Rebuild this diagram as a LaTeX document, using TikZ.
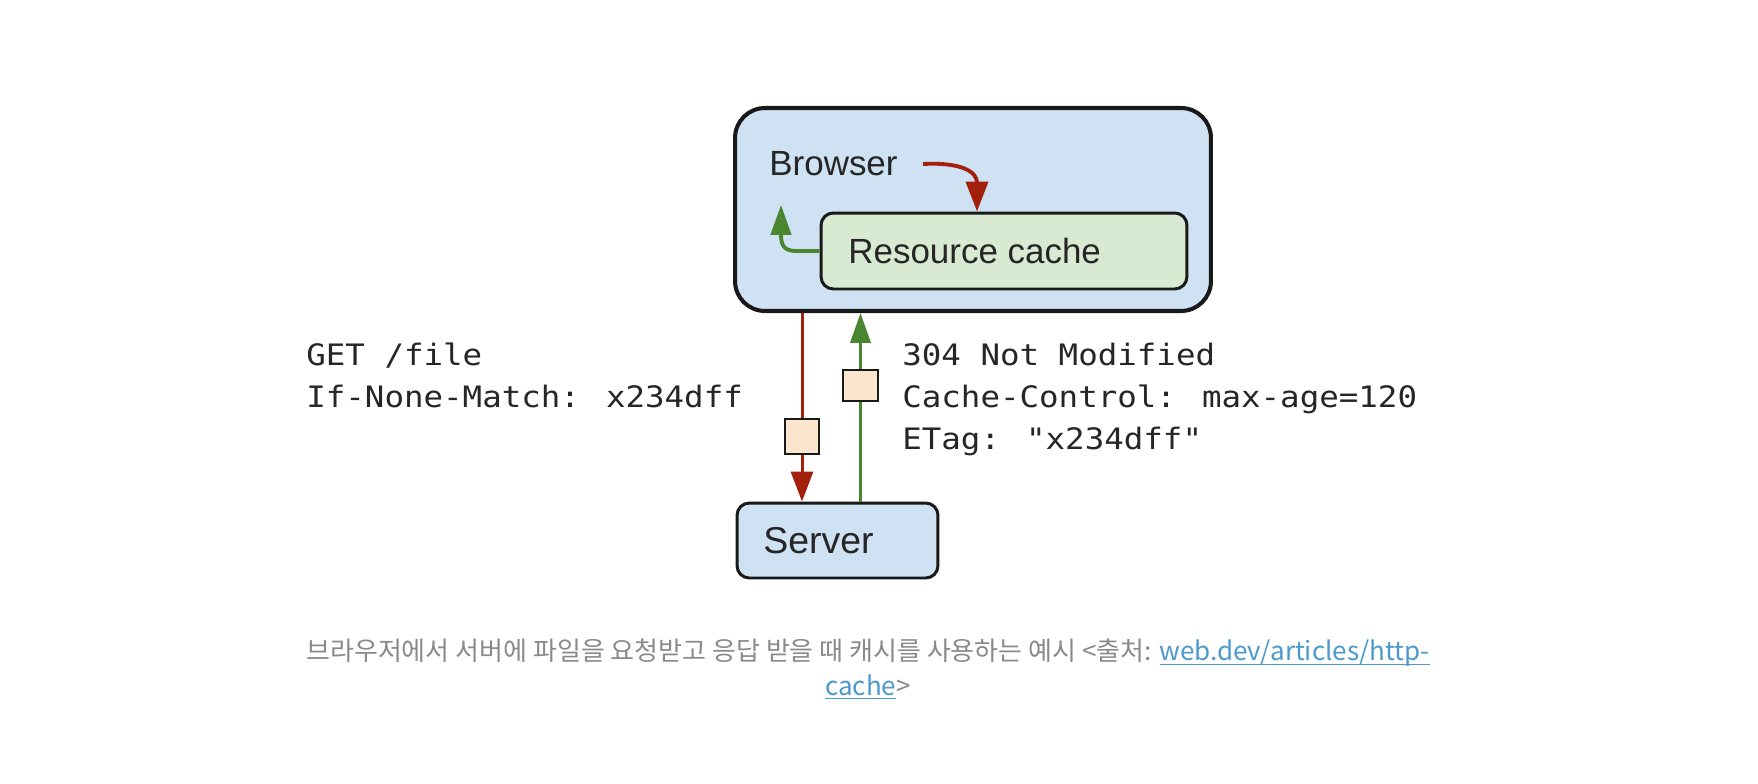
\documentclass[tikz,border=0pt]{standalone}
\usepackage{fontspec}
\setmainfont{Liberation Sans}
\newfontfamily\monofont[FakeStretch=1.1]{DejaVu Sans Mono}
\newfontfamily\krfont{Noto Sans CJK KR}
\usetikzlibrary{arrows.meta}

\definecolor{browserblue}{HTML}{CFE2F3}
\definecolor{cachegreen}{HTML}{D9EAD3}
\definecolor{msgorange}{HTML}{FCE5CD}
\definecolor{reqred}{HTML}{A2200C}
\definecolor{respgreen}{HTML}{4A8530}
\definecolor{captiongray}{HTML}{8A8A8A}
\definecolor{linkblue}{HTML}{4C9ACB}

\newcommand{\weblink}[1]{\textcolor{linkblue}{\setbox0\hbox{#1}\rlap{\rule[-2.4pt]{\wd0}{0.9pt}}\box0}}

\begin{document}
\begin{tikzpicture}[x=0.02cm, y=-0.02cm,
    box/.style={draw=black!90, line width=1.7pt, rounded corners=7pt, inner sep=0pt},
    boxtext/.style={anchor=base west, inner sep=0pt, text=black!85, font=\fontsize{19.9}{24}\selectfont},
    header/.style={anchor=base west, inner sep=0pt, text=black!85, font=\monofont\fontsize{16.8}{20}\selectfont},
    msg/.style={draw=black!90, line width=1.2pt, fill=msgorange, inner sep=0pt},
    reqarrow/.style={reqred, line width=1.7pt, -{Triangle[length=17pt,width=12.5pt]}},
    resparrow/.style={respgreen, line width=1.7pt, -{Triangle[length=17pt,width=11.5pt]}}
]

% Page size
\useasboundingbox[fill=white] (0,0) rectangle (1758,784);

% Draws boxes
\node[box, line width=2.3pt, rounded corners=17pt, fill=browserblue,
    minimum width=9.52cm, minimum height=4.06cm] (browser) at (973,209.5) {};
\node[box, fill=cachegreen, minimum width=7.32cm, minimum height=1.52cm] (cache) at (1004,251) {};
\node[box, fill=browserblue, minimum width=4.02cm, minimum height=1.5cm] (server) at (837.5,540.5) {};

\node[boxtext] (browserlabel) at (769,175) {Browser};
\node[boxtext] (cachelabel) at (848,263) {Resource cache};
\node[boxtext, font=\fontsize{21.3}{25}\selectfont] (serverlabel) at (763,553) {Server};

% Arrows inside the browser
\coordinate (lookup) at (923,164);
\coordinate (cacheout) at (781,205);
\draw[reqarrow, line width=2.2pt] (lookup) .. controls (962,162) and (977,172) .. ([xshift=-0.54cm]cache.north);
\draw[resparrow, line width=2.2pt] (cache.west) -- (796,251) .. controls (783,251) and (781,244) .. (cacheout);

% Request and response
\coordinate (reqx) at (802,0);
\coordinate (respx) at (860.5,0);
\draw[reqarrow] (browser.south -| reqx) -- (server.north -| reqx)
    node[msg, pos=0.654, minimum width=0.68cm, minimum height=0.70cm] (reqmsg) {};
\draw[resparrow] (server.north -| respx) -- (browser.south -| respx)
    node[msg, pos=0.615, minimum width=0.70cm, minimum height=0.62cm] (respmsg) {};

% Headers
\node[header] (get) at (306,365) {GET /file};
\node[header] (ifnone) at (306,407) {If-None-Match: x234dff};
\node[header] (status) at (902,365) {304 Not Modified};
\node[header] (cachectl) at (902,407) {Cache-Control: max-age=120};
\node[header] (etag) at (902,449) {ETag: "x234dff"};

% Caption
\node[font=\krfont\fontsize{14.8}{19.4}\selectfont, text=captiongray, align=center, anchor=base, inner sep=0pt]
    (caption) at (868,695) {브라우저에서 서버에 파일을 요청받고 응답 받을 때 캐시를 사용하는 예시 <출처: \weblink{web.dev/articles/http-}\\\weblink{cache}>};

\end{tikzpicture}
\end{document}
